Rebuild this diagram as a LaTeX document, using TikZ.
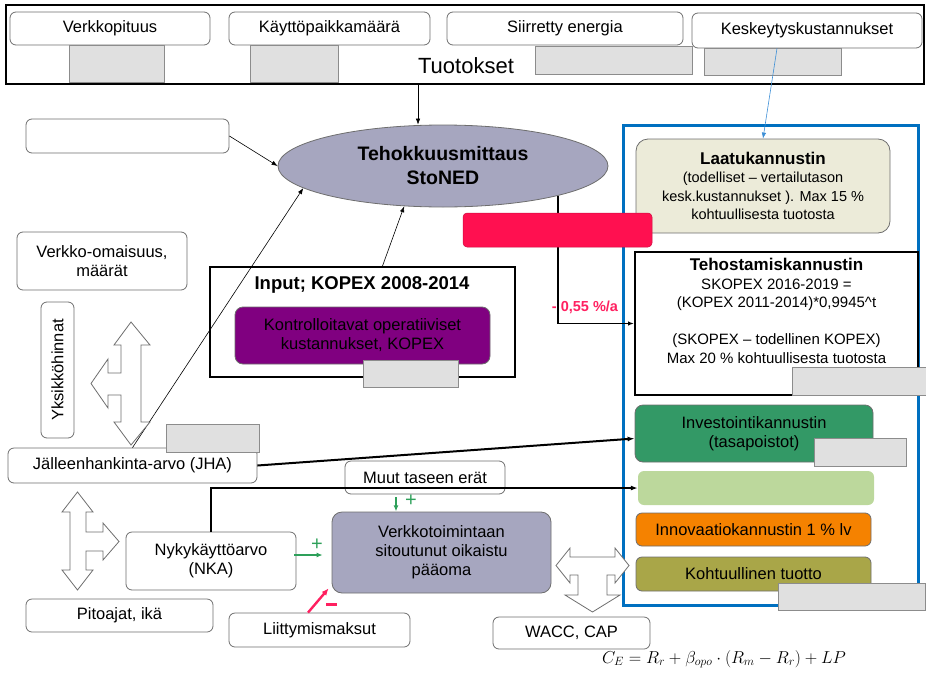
\documentclass[tikz,border=0pt]{standalone}
\usepackage{fontspec}
\setmainfont{Liberation Sans}
\usetikzlibrary{arrows.meta,calc,shapes.geometric}
\definecolor{boxgray}{HTML}{6E6E6E}
\definecolor{graybox}{HTML}{E0E0E0}
\definecolor{grayline}{HTML}{8C8C8C}
\definecolor{lavender}{HTML}{A6A6BF}
\definecolor{purplebox}{HTML}{800080}
\definecolor{laatufill}{HTML}{ECEBD9}
\definecolor{investgreen}{HTML}{339966}
\definecolor{lightgreen}{HTML}{BCD89C}
\definecolor{orangebox}{HTML}{F58200}
\definecolor{olivebox}{HTML}{A9A648}
\definecolor{redbar}{HTML}{FF1050}
\definecolor{redtext}{HTML}{FF2060}
\definecolor{arrgreen}{HTML}{2EA05A}
\definecolor{framblue}{HTML}{0070C0}
\definecolor{thinblue}{HTML}{3D8FD6}
\begin{document}
\begin{tikzpicture}[x=1pt,y=-1pt,
  wb/.style={draw=boxgray, fill=white, rounded corners=6pt, line width=0.8pt, inner sep=0pt, align=center, font=\fontsize{16.5}{19}\selectfont},
  gb/.style={draw=grayline, fill=graybox, line width=0.8pt, inner sep=0pt},
  colbox/.style={draw=boxgray, rounded corners=8pt, line width=0.8pt, inner sep=0pt, align=center, font=\fontsize{16.5}{19}\selectfont},
  blkbox/.style={draw=black, fill=white, line width=2pt, inner sep=0pt},
  sz/.style 2 args={minimum width=#1, minimum height=#2},
  arr/.style={-{Latex[length=6pt,width=4.5pt]}, line width=0.6pt},
  thickarr/.style={-{Latex[length=7pt,width=5pt]}, line width=2pt},
  garr/.style={-{Latex[length=6pt,width=5pt]}, line width=2pt, draw=arrgreen},
  hollow/.style={draw=boxgray, fill=white, line width=0.8pt, line join=miter}
]
\useasboundingbox (0,0) rectangle (926,672);

% ---------- top frame ----------
\node[draw=black, line width=2.2pt, inner sep=0pt, sz={918}{79}] (outframe) at (465,44.5) {};
\node[wb, sz={200}{33}] (verk) at (110,28.5) {Verkkopituus};
\node[wb, sz={201}{33}] (kaytto) at (329.5,28.5) {Käyttöpaikkamäärä};
\node[wb, sz={236}{33}] (siirr) at (565,28.5) {Siirretty energia};
\node[wb, sz={230}{35}] (kesk) at (807,30.5) {Keskeytyskustannukset};
\node[gb, sz={95}{37}] (g1) at (116.5,63.5) {};
\node[gb, sz={88}{37}] (g2) at (294,63.5) {};
\node[gb, sz={157}{28}] (g3) at (613.5,60) {};
\node[gb, sz={137}{27}] (g4) at (772.5,61.5) {};
\node[font=\fontsize{22}{26}\selectfont, inner sep=0pt] (tuot) at (466,66) {Tuotokset};

% ---------- ellipse ----------
\node[ellipse, draw=boxgray, fill=lavender, line width=0.8pt, sz={330}{82}, inner sep=0pt, align=center,
  font=\bfseries\fontsize{19.5}{24}\selectfont] (ell) at (443,166) {Tehokkuusmittaus\\StoNED};

% ---------- left column ----------
\node[wb, sz={203}{34}] (blank) at (127.5,136) {};
\node[wb, sz={170}{58}] (omai) at (102,261) {Verkko-omaisuus,\\määrät};
\node[wb, rotate=90, sz={136}{33}] (yks) at (57.5,370) {Yksikköhinnat};
\node[wb, sz={249}{35}] (jha) at (132.5,465.5) {Jälleenhankinta-arvo (JHA)};
\node[gb, sz={93}{28}] (g9) at (212.5,438) {};
\node[wb, sz={170}{58}] (nka) at (211,561) {Nykykäyttöarvo\\(NKA)};
\node[wb, sz={187}{33}] (pito) at (119.5,615.5) {Pitoajat, ikä};
\node[wb, sz={181}{34}] (liit) at (319.5,630) {Liittymismaksut};

% ---------- input box ----------
\node[blkbox, sz={305}{110}] (input) at (362.5,322) {};
\node[font=\bfseries\fontsize{18.5}{22}\selectfont, inner sep=0pt] (inputtitle) at (362,285) {Input; KOPEX 2008-2014};
\node[colbox, fill=purplebox, sz={255}{57}] (purp) at (362.5,335.5) {Kontrolloitavat operatiiviset\\kustannukset, KOPEX};
\node[gb, sz={95}{27}] (g5) at (410.5,373.5) {};

% ---------- middle ----------
\node[wb, sz={160}{33}] (muut) at (425,477.5) {Muut taseen erät};
\node[colbox, fill=lavender, rounded corners=10pt, sz={219}{81}] (vtoim) at (441.5,552.5) {Verkkotoimintaan\\sitoutunut oikaistu\\pääoma};
\node[wb, sz={157}{32}] (wacc) at (571.5,633) {WACC, CAP};
\node[inner sep=0pt, font=\fontsize{17.5}{20}\selectfont] (formula) at (724,659) {$C_E = R_r + \beta_{opo}\cdot\left(R_m - R_r\right) + LP$};

% ---------- right column ----------
\draw[framblue, line width=3pt] (623,125) rectangle (918,605);
\node[colbox, fill=laatufill, rounded corners=12pt, sz={254}{94}, font=\fontsize{14.5}{18.5}\selectfont] (laatu) at (763,186)
  {{\bfseries\fontsize{17}{19}\selectfont Laatukannustin}\\(todelliset – vertailutason\\kesk.kustannukset ). Max 15 \%\\kohtuullisesta tuotosta};
\node[blkbox, sz={283}{143}] (tehost) at (776.5,323.5) {};
\node[inner sep=0pt, align=center, font=\fontsize{15}{18.5}\selectfont, anchor=north] (tehosttxt) at (776.5,258)
  {{\bfseries\fontsize{17}{19}\selectfont Tehostamiskannustin}\\SKOPEX 2016-2019 =\\(KOPEX 2011-2014)*0,9945\textasciicircum t\\[18.5pt](SKOPEX – todellinen KOPEX)\\Max 20 \% kohtuullisesta tuotosta};
\node[gb, sz={134}{28}] (g6) at (859,381) {};
\node[colbox, fill=investgreen, sz={238}{57}] (invest) at (754,433.5) {Investointikannustin\\(tasapoistot)};
\node[gb, sz={92}{28}] (g7) at (860,452) {};
\node[draw=none, fill=lightgreen, rounded corners=6pt, inner sep=0pt, sz={236}{34}] (lg) at (756,488) {};
\node[colbox, fill=orangebox, rounded corners=6pt, sz={235}{33}] (innov) at (753.5,529.5) {Innovaatiokannustin 1 \% lv};
\node[colbox, fill=olivebox, rounded corners=6pt, sz={235}{34}] (kohtu) at (753.5,574) {Kohtuullinen tuotto};
\node[gb, sz={147}{27}] (g8) at (851.5,596.5) {};

% ---------- connectors ----------
\coordinate (t1) at (418,84);
\draw[arr] (t1) -- (t1 |- ell.north);
\draw[arr, thinblue] ($(kesk.south)+(-30,0)$) -- (laatu.north);
\draw[arr] (blank.east) -- (ell.west);
\draw[arr] (jha.north) -- (ell.189);
\draw[arr] ($(input.north)+(20,0)$) -- (ell.226);
\coordinate (e1) at (558,195.5);
\draw[arr, line width=1.2pt] (e1) |- (tehost.west);
\node[font=\bfseries\fontsize{14.5}{16}\selectfont, text=redtext, inner sep=0pt] (pct) at (585,307) {- 0,55 \%/a};
\draw[thickarr] (jha.east) -- ($(invest.west)+(0,5)$);
\draw[thickarr] (nka.north) |- (lg.west);
\draw[garr] ($(muut.south)+(-29,3)$) -- ++(0,14);
\node[text=arrgreen, font=\fontsize{20}{20}\selectfont, inner sep=0pt] (plus1) at (411,501) {+};
\draw[garr] ($(nka.east)+(-2,-6)$) -- ($(vtoim.west)+(-9,2.5)$);
\node[text=arrgreen, font=\fontsize{20}{20}\selectfont, inner sep=0pt] (plus2) at (317,545) {+};
\draw[-{Latex[length=7pt,width=6pt]}, line width=2.4pt, redtext] ($(liit.north)+(-11.5,0)$) -- ($(vtoim.south west)+(-3,-5)$);
\draw[redtext, line width=3pt] (326,604) -- (337,604);

% red bar on top
\node[fill=redbar, draw=redbar!80!black, line width=0.5pt, rounded corners=4pt, inner sep=0pt, sz={189}{34}] (rbar) at (557.5,230) {};

% ---------- hollow arrows ----------
\draw[hollow] (131,322) -- (150,345) -- (141,345) -- (141,422) -- (150,422) -- (131,445) -- (114,422) -- (121,422)
  -- (121,395) -- (108,395) -- (108,408) -- (91,383.5) -- (108,359) -- (108,373) -- (121,373) -- (121,345) -- (114,345) -- cycle;
\draw[hollow] (77.5,492) -- (93,512) -- (86,512) -- (86,532) -- (103,532) -- (103,523) -- (119,541.5) -- (103,560)
  -- (103,551) -- (86,551) -- (86,570) -- (93,570) -- (77.5,590) -- (62,570) -- (70,570) -- (70,512) -- (62,512) -- cycle;
\draw[hollow] (556,565.5) -- (570,548) -- (570,557) -- (615,557) -- (615,548) -- (629,565.5) -- (615,583) -- (615,575)
  -- (607,575) -- (607,595) -- (620,595) -- (592.5,612) -- (565,595) -- (578,595) -- (578,575) -- (570,575) -- (570,583) -- cycle;
\end{tikzpicture}
\end{document}
